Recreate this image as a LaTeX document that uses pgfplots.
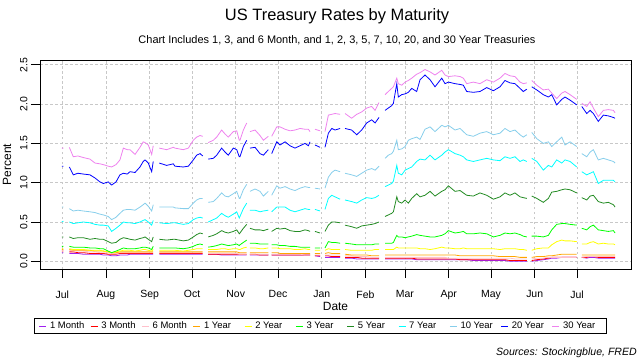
\documentclass[border=0pt]{standalone}
\usepackage{fontspec}
\setmainfont{Liberation Sans}
\usepackage{pgfplots}
\usepackage{pgfplotstable}
\pgfplotsset{compat=1.18}
\definecolor{cM1}{HTML}{A020F0}
\definecolor{cM3}{HTML}{FF0000}
\definecolor{cM6}{HTML}{FFC0CB}
\definecolor{cY1}{HTML}{FFA500}
\definecolor{cY2}{HTML}{FFFF00}
\definecolor{cY3}{HTML}{00FF00}
\definecolor{cY5}{HTML}{228B22}
\definecolor{cY7}{HTML}{00FFFF}
\definecolor{cY10}{HTML}{87CEEB}
\definecolor{cY20}{HTML}{0000FF}
\definecolor{cY30}{HTML}{EE82EE}
\definecolor{gridc}{HTML}{C8C8C8}
% d = days since 1 July 2020
\pgfplotstableread{
d m1 m3 m6 y1 y2 y3 y5 y7 y10 y20 y30
-0.3 0.11 0.13 0.14 0.15 0.16 0.19 0.31 0.50 0.69 1.21 1.44
0.8 0.11 0.13 0.14 0.15 0.16 0.19 0.31 0.51 0.69 1.21 1.44
nan nan nan nan nan nan nan nan nan nan nan nan
5.0 0.10 0.12 0.14 0.15 0.16 0.19 0.31 0.50 0.67 1.20 1.45
7.8 0.10 0.12 0.13 0.14 0.15 0.18 0.29 0.48 0.64 1.10 1.33
11.1 0.10 0.11 0.13 0.14 0.15 0.18 0.30 0.49 0.65 1.12 1.34
14.9 0.09 0.11 0.13 0.14 0.15 0.18 0.30 0.50 0.64 1.11 1.32
19.6 0.09 0.10 0.12 0.14 0.14 0.17 0.28 0.49 0.63 1.10 1.30
23.2 0.09 0.10 0.12 0.13 0.14 0.17 0.29 0.47 0.62 1.06 1.25
26.7 0.09 0.10 0.11 0.13 0.14 0.16 0.28 0.46 0.60 1.01 1.24
29.1 0.08 0.10 0.11 0.13 0.13 0.16 0.28 0.46 0.59 0.99 1.23
32.6 0.08 0.09 0.11 0.12 0.12 0.13 0.25 0.45 0.57 1.01 1.21
35.0 0.07 0.09 0.10 0.11 0.11 0.11 0.23 0.38 0.53 0.97 1.20
38.1 0.07 0.09 0.10 0.11 0.12 0.13 0.24 0.42 0.56 1.01 1.23
40.9 0.08 0.10 0.11 0.12 0.13 0.15 0.28 0.46 0.61 1.10 1.29
43.3 0.08 0.10 0.11 0.12 0.14 0.17 0.30 0.50 0.65 1.12 1.44
46.1 0.08 0.10 0.11 0.12 0.14 0.16 0.29 0.49 0.66 1.11 1.42
48.0 0.09 0.10 0.11 0.12 0.14 0.16 0.28 0.49 0.66 1.14 1.42
51.6 0.09 0.10 0.11 0.12 0.13 0.16 0.27 0.48 0.65 1.13 1.36
55.1 0.09 0.10 0.11 0.12 0.14 0.17 0.29 0.50 0.69 1.20 1.45
57.4 0.09 0.10 0.11 0.12 0.15 0.18 0.30 0.52 0.72 1.27 1.52
58.7 0.09 0.10 0.11 0.12 0.15 0.18 0.31 0.53 0.74 1.29 1.51
61.0 0.09 0.10 0.11 0.12 0.14 0.17 0.28 0.50 0.70 1.25 1.48
63.4 0.09 0.10 0.11 0.12 0.13 0.15 0.25 0.46 0.64 1.14 1.36
64.5 0.09 0.10 0.11 0.12 0.15 0.19 0.31 0.52 0.72 1.27 1.47
nan nan nan nan nan nan nan nan nan nan nan nan
68.8 0.09 0.10 0.11 0.12 0.14 0.17 0.28 0.49 0.69 1.25 1.44
74.0 0.09 0.10 0.11 0.12 0.14 0.17 0.27 0.48 0.69 1.22 1.42
78.7 0.09 0.10 0.11 0.12 0.14 0.17 0.28 0.49 0.69 1.24 1.45
79.9 0.09 0.10 0.11 0.12 0.14 0.17 0.28 0.49 0.68 1.21 1.44
85.8 0.09 0.10 0.11 0.12 0.13 0.16 0.26 0.47 0.67 1.20 1.42
89.4 0.09 0.10 0.11 0.12 0.14 0.17 0.27 0.48 0.67 1.21 1.44
92.9 0.09 0.10 0.11 0.12 0.15 0.19 0.31 0.53 0.74 1.29 1.54
95.3 0.09 0.10 0.11 0.12 0.16 0.21 0.34 0.55 0.78 1.35 1.58
97.7 0.09 0.10 0.11 0.12 0.16 0.22 0.36 0.56 0.80 1.37 1.60
99.6 0.09 0.10 0.11 0.12 0.16 0.21 0.35 0.55 0.80 1.34 1.59
nan nan nan nan nan nan nan nan nan nan nan nan
103.5 0.09 0.09 0.10 0.12 0.15 0.18 0.31 0.50 0.75 1.30 1.51
107.1 0.09 0.09 0.10 0.12 0.15 0.19 0.33 0.53 0.76 1.31 1.54
109.5 0.09 0.09 0.10 0.12 0.15 0.20 0.35 0.55 0.80 1.35 1.58
113.0 0.08 0.09 0.10 0.12 0.16 0.22 0.39 0.61 0.87 1.44 1.67
115.4 0.08 0.09 0.10 0.12 0.16 0.21 0.37 0.58 0.83 1.39 1.62
117.7 0.08 0.09 0.10 0.12 0.15 0.20 0.36 0.56 0.82 1.35 1.58
121.3 0.08 0.09 0.10 0.12 0.16 0.21 0.38 0.60 0.86 1.44 1.65
123.7 0.08 0.09 0.10 0.12 0.16 0.22 0.40 0.63 0.89 1.42 1.66
125.5 0.08 0.09 0.09 0.11 0.15 0.20 0.35 0.55 0.80 1.33 1.54
126.0 0.08 0.09 0.09 0.11 0.15 0.21 0.36 0.57 0.80 1.33 1.54
128.4 0.08 0.09 0.09 0.11 0.17 0.24 0.42 0.67 0.91 1.46 1.67
130.8 0.08 0.09 0.09 0.11 0.18 0.27 0.47 0.74 0.98 1.54 1.76
nan nan nan nan nan nan nan nan nan nan nan nan
133.1 0.08 0.09 0.09 0.11 0.17 0.23 0.42 0.65 0.89 1.44 1.65
136.7 0.08 0.09 0.09 0.11 0.17 0.23 0.40 0.65 0.92 1.45 1.67
140.2 0.08 0.08 0.09 0.11 0.16 0.22 0.40 0.63 0.89 1.37 1.60
142.6 0.08 0.08 0.09 0.11 0.16 0.22 0.39 0.64 0.83 1.35 1.54
146.1 0.08 0.08 0.09 0.11 0.17 0.22 0.41 0.65 0.89 1.42 1.59
nan nan nan nan nan nan nan nan nan nan nan nan
148.5 0.08 0.08 0.09 0.11 0.17 0.21 0.38 0.63 0.84 1.37 1.59
152.1 0.08 0.08 0.09 0.11 0.17 0.21 0.42 0.69 0.96 1.52 1.71
154.4 0.08 0.08 0.09 0.10 0.16 0.20 0.41 0.69 0.93 1.48 1.71
158.0 0.08 0.08 0.09 0.10 0.16 0.20 0.42 0.69 0.95 1.52 1.68
161.5 0.08 0.08 0.09 0.10 0.16 0.19 0.39 0.65 0.92 1.47 1.66
165.0 0.08 0.08 0.09 0.10 0.15 0.19 0.38 0.63 0.90 1.44 1.67
168.6 0.08 0.08 0.09 0.10 0.15 0.18 0.38 0.65 0.93 1.47 1.69
172.1 0.08 0.08 0.08 0.10 0.16 0.18 0.40 0.67 0.95 1.50 1.68
174.5 0.08 0.08 0.08 0.10 0.15 0.18 0.39 0.66 0.94 1.47 1.68
175.7 0.08 0.08 0.08 0.10 0.15 0.18 0.38 0.66 0.94 1.52 1.65
nan nan nan nan nan nan nan nan nan nan nan nan
179.2 0.07 0.07 0.08 0.10 0.14 0.17 0.38 0.66 0.93 1.48 1.68
182.8 0.06 0.07 0.08 0.10 0.14 0.17 0.36 0.64 0.92 1.45 1.66
nan nan nan nan nan nan nan nan nan nan nan nan
186.3 0.05 0.07 0.08 0.10 0.14 0.17 0.38 0.66 0.93 1.45 1.65
188.7 0.05 0.07 0.08 0.11 0.16 0.25 0.46 0.80 1.07 1.63 1.86
191.1 0.05 0.06 0.08 0.10 0.15 0.24 0.50 0.84 1.13 1.69 1.87
193.4 0.05 0.06 0.08 0.10 0.15 0.24 0.50 0.82 1.16 1.67 1.88
197.0 0.05 0.06 0.08 0.10 0.15 0.23 0.49 0.79 1.14 1.69 1.87
nan nan nan nan nan nan nan nan nan nan nan nan
200.5 0.04 0.05 0.07 0.09 0.15 0.23 0.46 0.78 1.12 1.69 1.88
205.2 0.04 0.05 0.07 0.08 0.14 0.22 0.44 0.76 1.10 1.67 1.82
208.8 0.03 0.05 0.06 0.08 0.14 0.21 0.42 0.74 1.08 1.61 1.87
212.3 0.03 0.04 0.06 0.08 0.14 0.21 0.45 0.78 1.12 1.67 1.90
215.9 0.03 0.04 0.06 0.08 0.14 0.21 0.46 0.81 1.16 1.76 1.95
219.4 0.03 0.04 0.05 0.07 0.14 0.21 0.47 0.80 1.18 1.80 1.97
221.8 0.03 0.04 0.05 0.07 0.15 0.22 0.48 0.81 1.16 1.76 1.92
224.6 0.03 0.04 0.05 0.07 0.15 0.22 0.50 0.84 1.21 1.83 2.02
nan nan nan nan nan nan nan nan nan nan nan nan
228.9 0.03 0.04 0.05 0.08 0.15 0.23 0.57 0.95 1.31 1.92 2.12
231.2 0.03 0.04 0.05 0.08 0.15 0.23 0.59 0.97 1.35 1.95 2.16
233.6 0.03 0.04 0.05 0.08 0.15 0.23 0.61 0.99 1.37 1.98 2.20
234.8 0.03 0.04 0.05 0.08 0.15 0.24 0.63 1.02 1.40 2.01 2.22
237.2 0.03 0.04 0.05 0.08 0.18 0.33 0.82 1.22 1.54 2.26 2.33
238.3 0.03 0.04 0.05 0.08 0.17 0.31 0.76 1.12 1.42 2.09 2.26
240.7 0.03 0.04 0.05 0.08 0.17 0.31 0.74 1.10 1.43 2.12 2.24
243.1 0.03 0.04 0.05 0.08 0.17 0.30 0.78 1.16 1.46 2.13 2.28
245.4 0.03 0.04 0.05 0.08 0.17 0.31 0.74 1.18 1.54 2.15 2.30
247.8 0.03 0.04 0.05 0.08 0.17 0.32 0.80 1.20 1.56 2.20 2.33
251.3 0.02 0.03 0.05 0.08 0.17 0.34 0.86 1.27 1.58 2.16 2.38
253.7 0.02 0.03 0.05 0.08 0.16 0.33 0.82 1.30 1.55 2.31 2.40
257.2 0.02 0.03 0.05 0.08 0.16 0.32 0.84 1.29 1.68 2.37 2.44
260.8 0.02 0.03 0.05 0.08 0.15 0.31 0.89 1.35 1.71 2.31 2.41
264.3 0.02 0.03 0.05 0.08 0.16 0.31 0.83 1.29 1.65 2.22 2.37
269.1 0.02 0.03 0.05 0.08 0.18 0.33 0.89 1.35 1.73 2.33 2.43
271.4 0.02 0.03 0.05 0.08 0.17 0.35 0.91 1.39 1.71 2.26 2.37
273.8 0.02 0.03 0.04 0.08 0.17 0.39 0.96 1.42 1.73 2.28 2.35
278.5 0.02 0.03 0.04 0.08 0.16 0.36 0.89 1.37 1.67 2.26 2.36
282.1 0.02 0.02 0.04 0.07 0.16 0.37 0.90 1.35 1.69 2.25 2.35
284.4 0.02 0.02 0.04 0.07 0.17 0.38 0.87 1.33 1.65 2.24 2.33
286.8 0.02 0.02 0.04 0.07 0.16 0.35 0.84 1.29 1.61 2.16 2.26
291.5 0.01 0.02 0.04 0.07 0.16 0.35 0.83 1.27 1.59 2.15 2.28
296.2 0.01 0.02 0.04 0.07 0.16 0.36 0.87 1.29 1.63 2.16 2.26
301.0 0.01 0.02 0.04 0.07 0.16 0.35 0.84 1.31 1.65 2.21 2.31
305.7 0.01 0.02 0.04 0.07 0.16 0.31 0.79 1.29 1.61 2.17 2.28
310.4 0.01 0.02 0.04 0.06 0.15 0.33 0.82 1.28 1.63 2.22 2.33
313.9 0.01 0.02 0.04 0.06 0.16 0.36 0.87 1.33 1.69 2.30 2.39
317.5 0.00 0.01 0.04 0.06 0.16 0.35 0.84 1.31 1.65 2.27 2.36
321.0 0.00 0.01 0.03 0.06 0.16 0.36 0.87 1.33 1.67 2.26 2.35
324.6 0.00 0.01 0.03 0.05 0.15 0.34 0.82 1.27 1.61 2.20 2.28
326.9 0.00 0.01 0.03 0.05 0.15 0.32 0.81 1.29 1.58 2.16 2.26
329.4 0.00 0.01 0.03 0.05 0.14 0.31 0.80 1.27 1.61 2.19 2.27
nan nan nan nan nan nan nan nan nan nan nan nan
332.9 0.00 0.01 0.03 0.05 0.14 0.32 0.83 1.31 1.64 2.22 2.30
336.5 0.01 0.02 0.04 0.06 0.16 0.32 0.80 1.27 1.56 2.18 2.24
341.1 0.02 0.03 0.04 0.06 0.17 0.31 0.75 1.16 1.50 2.12 2.18
344.7 0.03 0.04 0.05 0.07 0.17 0.33 0.80 1.22 1.52 2.09 2.19
347.1 0.04 0.05 0.05 0.07 0.21 0.40 0.88 1.20 1.46 2.12 2.14
350.6 0.04 0.05 0.05 0.08 0.25 0.47 0.89 1.29 1.52 1.99 2.07
354.2 0.05 0.05 0.05 0.09 0.27 0.48 0.91 1.25 1.58 2.06 2.14
356.5 0.05 0.05 0.05 0.09 0.26 0.48 0.92 1.29 1.48 2.09 2.16
360.1 0.05 0.05 0.05 0.09 0.26 0.47 0.91 1.27 1.52 2.05 2.12
364.8 0.05 0.05 0.05 0.09 0.25 0.46 0.87 1.20 1.46 1.99 2.06
nan nan nan nan nan nan nan nan nan nan nan nan
368.4 0.05 0.05 0.05 0.08 0.22 0.42 0.81 1.14 1.37 1.97 2.01
371.9 0.04 0.05 0.06 0.08 0.22 0.40 0.78 1.10 1.33 1.88 1.97
374.3 0.05 0.06 0.06 0.08 0.24 0.44 0.83 1.12 1.39 1.92 2.03
376.6 0.05 0.06 0.06 0.08 0.25 0.46 0.84 1.14 1.42 1.88 1.95
380.1 0.04 0.05 0.06 0.08 0.22 0.40 0.76 0.99 1.29 1.78 1.84
383.7 0.04 0.05 0.06 0.08 0.23 0.39 0.74 1.03 1.31 1.86 1.92
387.2 0.04 0.05 0.06 0.08 0.22 0.38 0.75 1.03 1.29 1.85 1.93
390.8 0.04 0.05 0.06 0.08 0.22 0.39 0.72 1.03 1.27 1.83 1.92
392.0 0.04 0.05 0.06 0.08 0.21 0.36 0.69 1.01 1.25 1.82 1.89
}\rates

\begin{document}
\begin{tikzpicture}[x=1bp,y=1bp]
\path[use as bounding box] (0,0) rectangle (640,360);
\node[font=\fontsize{16.5}{19}\selectfont] at (337,344) {US Treasury Rates by Maturity};
\node[font=\fontsize{11}{13}\selectfont] at (337,320) {Chart Includes 1, 3, and 6 Month, and 1, 2, 3, 5, 7, 10, 20, and 30 Year Treasuries};
\node[font=\fontsize{10.6}{12}\selectfont\itshape, anchor=base east, inner sep=0pt] at (637,5) {Sources: Stockingblue, FRED};
\begin{axis}[
  at={(40bp,91bp)}, anchor=south west,
  scale only axis, width=591bp, height=209bp,
  xmin=-15.8, xmax=403.3, ymin=-0.098, ymax=2.561,
  xtick={0,31,62,92,123,153,184,215,243,274,304,335,365},
  xticklabels={Jul,Aug,Sep,Oct,Nov,Dec,Jan,Feb,Mar,Apr,May,Jun,Jul},
  ytick={0,0.5,1,1.5,2,2.5},
  yticklabels={0.0,0.5,1.0,1.5,2.0,2.5},
  tick align=outside, major tick length=9bp,
  xtick pos=bottom, ytick pos=left,
  tick style={black, line width=0.8bp},
  axis line style={line width=0.8bp},
  ticklabel style={font=\fontsize{10.5}{12}\selectfont},
  xticklabel style={yshift=-9bp},
  yticklabel style={rotate=90, anchor=south},
  grid=major,
  grid style={color=gridc, dash pattern=on 2.5bp off 2.5bp, line width=0.6bp},
  every axis x label/.style={at={(axis description cs:0.5,0)}, yshift=-37bp, anchor=center, font=\fontsize{12}{14}\selectfont},
  every axis y label/.style={at={(axis description cs:0,0.5)}, xshift=-33bp, rotate=90, anchor=center, font=\fontsize{12}{14}\selectfont},
  xlabel={Date}, ylabel={Percent},
  unbounded coords=jump,
  every axis plot/.append style={line width=0.8bp, mark=none},
  legend columns=11,
  legend cell align=left,
  legend image code/.code={\draw[#1] (0bp,0bp) -- (7bp,0bp);},
  legend style={at={(0,0)}, anchor=north west, xshift=-6.4bp, yshift=-49bp,
    draw=black, line width=0.8bp, fill=white,
    font=\fontsize{9.5}{11}\selectfont, inner xsep=5bp, inner ysep=1.5bp,
    nodes={inner sep=2bp, text depth=0.15em},
    /tikz/every odd column/.style={column sep=1.3bp},
    /tikz/every even column/.style={column sep=2.2bp}},
]
\addplot[cM1] table[x=d, y=m1] {\rates}; \addlegendentry{\makebox[36bp][l]{1 Month}}
\addplot[cM3] table[x=d, y=m3] {\rates}; \addlegendentry{\makebox[36bp][l]{3 Month}}
\addplot[cM6] table[x=d, y=m6] {\rates}; \addlegendentry{\makebox[36bp][l]{6 Month}}
\addplot[cY1] table[x=d, y=y1] {\rates}; \addlegendentry{\makebox[36bp][l]{1 Year}}
\addplot[cY2] table[x=d, y=y2] {\rates}; \addlegendentry{\makebox[36bp][l]{2 Year}}
\addplot[cY3] table[x=d, y=y3] {\rates}; \addlegendentry{\makebox[36bp][l]{3 Year}}
\addplot[cY5] table[x=d, y=y5] {\rates}; \addlegendentry{\makebox[36bp][l]{5 Year}}
\addplot[cY7] table[x=d, y=y7] {\rates}; \addlegendentry{\makebox[36bp][l]{7 Year}}
\addplot[cY10] table[x=d, y=y10] {\rates}; \addlegendentry{\makebox[36bp][l]{10 Year}}
\addplot[cY20] table[x=d, y=y20] {\rates}; \addlegendentry{\makebox[36bp][l]{20 Year}}
\addplot[cY30] table[x=d, y=y30] {\rates}; \addlegendentry{\makebox[36bp][l]{30 Year}}
\end{axis}
\end{tikzpicture}
\end{document}
